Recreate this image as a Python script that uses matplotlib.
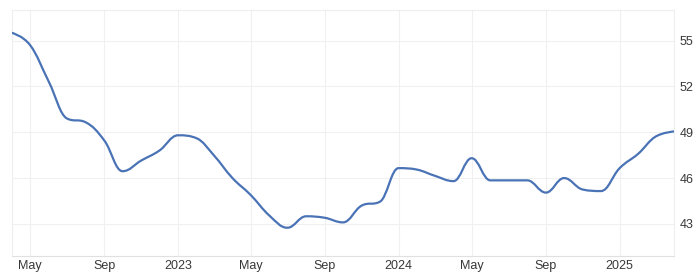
import matplotlib
matplotlib.use("Agg")
import matplotlib.pyplot as plt
import matplotlib.dates as mdates
from matplotlib.path import Path
from matplotlib.patches import PathPatch
import datetime as dt
import numpy as np

# ---- data (monthly, Apr 2022 .. Apr 2025) ----
months = [dt.date(2022 + (3 + i) // 12, (3 + i) % 12 + 1, 1) for i in range(37)]
values = [55.5, 54.7, 52.3, 49.9, 49.65, 48.45, 46.45, 47.15, 47.8, 48.8,
          48.6, 47.5, 46.0, 44.9, 43.55, 42.75, 43.5, 43.4, 43.1, 44.2,
          44.45, 46.65, 46.55, 46.15, 45.8, 47.3, 45.85, 45.85, 45.85, 45.05,
          46.0, 45.25, 45.15, 46.65, 47.6, 48.7, 49.05]
ytick_values = [43, 46, 49, 52, 55]
xtick_dates = [dt.date(2022, 5, 1), dt.date(2022, 9, 1), dt.date(2023, 1, 1),
               dt.date(2023, 5, 1), dt.date(2023, 9, 1), dt.date(2024, 1, 1),
               dt.date(2024, 5, 1), dt.date(2024, 9, 1), dt.date(2025, 1, 1)]
xtick_labels = ["May", "Sep", "2023", "May", "Sep", "2024", "May", "Sep", "2025"]

plt.rcParams['font.family'] = ['Liberation Sans', 'DejaVu Sans']

fig = plt.figure(figsize=(6.98, 2.74), dpi=100)
W, H = 698, 274
ax = fig.add_axes([12 / W, (H - 256) / H, (674 - 12) / W, (256 - 10) / H])

x = mdates.date2num(months)
y = np.array(values, dtype=float)
n = len(x)

# Highcharts-style spline control points
sm = 1.5
den = sm + 1
left = [None] * n
right = [None] * n
for i in range(1, n - 1):
    px, py = x[i], y[i]
    lx, ly = x[i - 1], y[i - 1]
    nx, ny = x[i + 1], y[i + 1]
    lcx = (sm * px + lx) / den
    lcy = (sm * py + ly) / den
    rcx = (sm * px + nx) / den
    rcy = (sm * py + ny) / den
    corr = 0.0
    if rcx != lcx:
        corr = ((rcy - lcy) * (rcx - px)) / (rcx - lcx) + py - rcy
    lcy += corr
    rcy += corr
    if lcy > ly and lcy > py:
        lcy = max(ly, py)
        rcy = 2 * py - lcy
    elif lcy < ly and lcy < py:
        lcy = min(ly, py)
        rcy = 2 * py - lcy
    if rcy > ny and rcy > py:
        rcy = max(ny, py)
        lcy = 2 * py - rcy
    elif rcy < ny and rcy < py:
        rcy = min(ny, py)
        lcy = 2 * py - rcy
    left[i] = (lcx, lcy)
    right[i] = (rcx, rcy)

verts = [(x[0], y[0])]
codes = [Path.MOVETO]
for i in range(1, n):
    c1 = right[i - 1] if right[i - 1] is not None else (x[i - 1], y[i - 1])
    c2 = left[i] if left[i] is not None else (x[i], y[i])
    verts += [c1, c2, (x[i], y[i])]
    codes += [Path.CURVE4] * 3
patch = PathPatch(Path(verts, codes), facecolor='none', edgecolor='#4a73b6',
                  lw=1.6, capstyle='round', joinstyle='round', zorder=3)
ax.add_patch(patch)

ax.set_xlim(x[0], x[-1])
ax.set_ylim(40.9, 57.0)

ax.yaxis.tick_right()
ax.set_yticks(ytick_values)
ax.set_yticklabels([str(v) for v in ytick_values])
ax.set_xticks(mdates.date2num(xtick_dates))
ax.set_xticklabels(xtick_labels)

ax.tick_params(axis='both', length=0, labelsize=9, labelcolor='#383838')
ax.tick_params(axis='y', pad=4)
ax.tick_params(axis='x', pad=3)

ax.grid(True, color='#f0f0f0', lw=0.8)
ax.set_axisbelow(True)
for s in ax.spines.values():
    s.set_color('#eeeeee')
    s.set_linewidth(0.8)
ax.spines['bottom'].set_color('#e0e0e0')

fig.savefig("out.png", dpi=100)
